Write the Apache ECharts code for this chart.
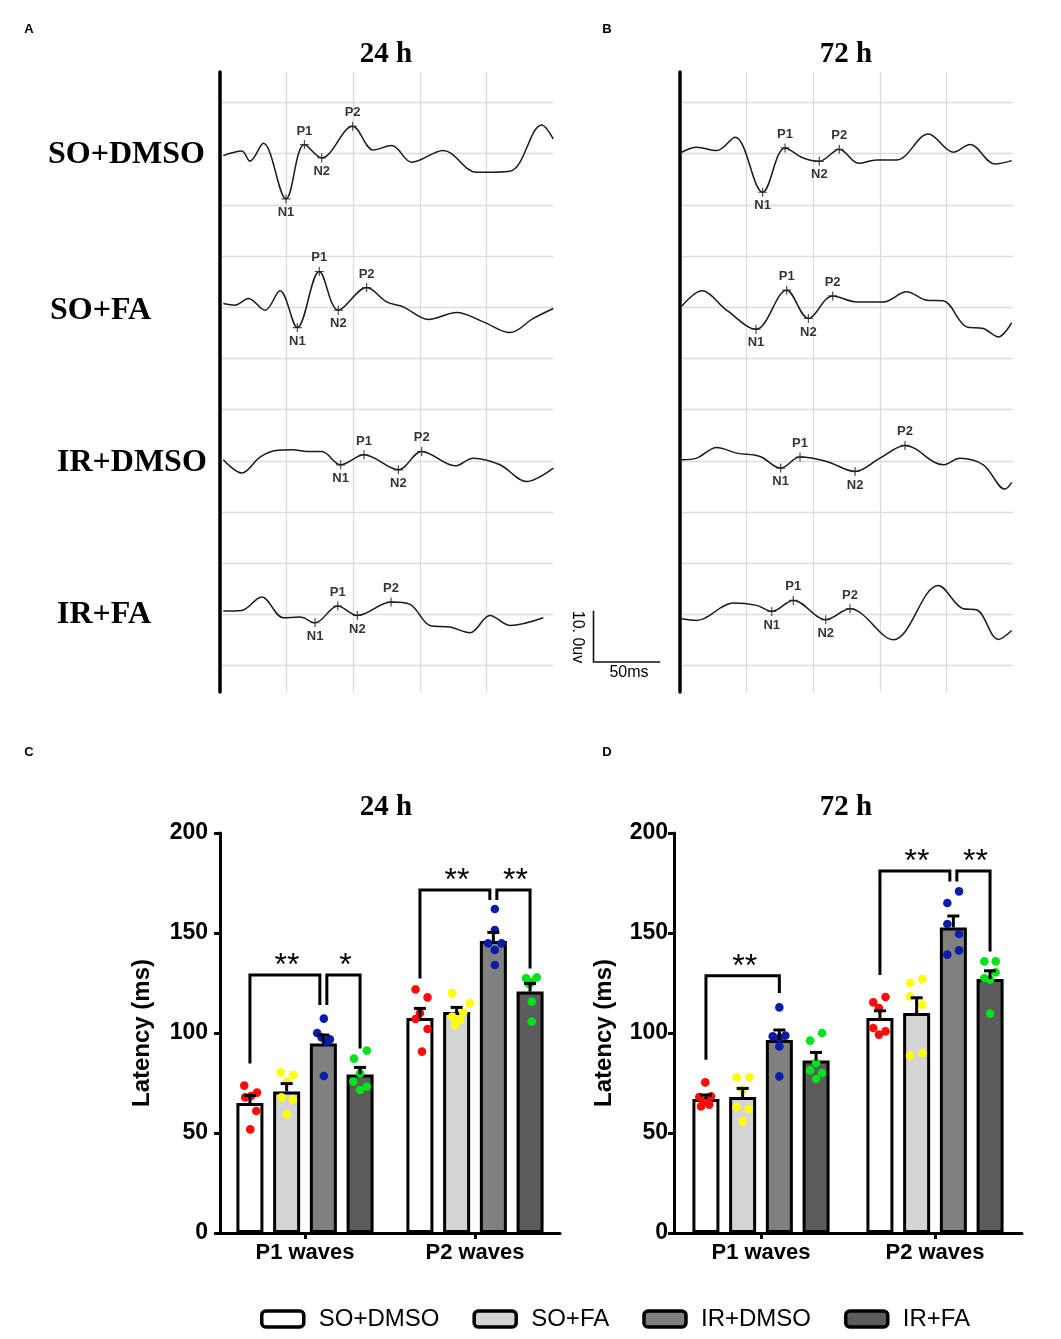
<!DOCTYPE html>
<html><head><meta charset="utf-8">
<script src="https://cdn.jsdelivr.net/npm/echarts@6/dist/echarts.min.js"></script>
<style>html,body{margin:0;padding:0;background:#fff}#c{width:1061px;height:1339px}</style>
</head><body><div id="c"></div>
<script>
// ================= DATA =================
const groups = ['SO+DMSO', 'SO+FA', 'IR+DMSO', 'IR+FA'];
const waveCats = ['P1 waves', 'P2 waves'];
const rowLabels = ['SO+DMSO', 'SO+FA', 'IR+DMSO', 'IR+FA'];

// VEP traces, [time (ms), amplitude (µV) relative to trace baseline]
const tA_SODMSO = [[2.5,-0.4],[16.3,0.5],[22.5,-1.5],[32.5,2.0],[49.5,-8.85],[63.3,1.76],[76.3,-0.85],[99.5,5.34],[115,0.72],[128.8,1.56],[143.8,-1.69],[167.5,0.6],[192.5,-3.65],[217.5,-3.45],[241.3,5.6],[250,2.86]];
const tA_SOFA   = [[2.5,0.72],[11.3,0.4],[21.3,1.7],[33.8,-0.6],[45,3.2],[58,-3.97],[74.5,6.97],[88.8,-0.59],[110,3.84],[125,1.04],[137.5,0.07],[156.3,-2.4],[177.5,-1.04],[197.5,-2.86],[217.5,-4.95],[235,-2.2],[250,-0.26]];
const tA_IRDMSO = [[2.5,0.2],[16.3,-2.4],[30,0.72],[42,2.0],[53.8,2.15],[67.5,1.8],[76.3,1.8],[90.5,-0.78],[108,1.17],[133.8,-1.76],[151.3,1.82],[176.3,-0.98],[190,0.52],[210,-0.78],[230,-4.04],[250,-1.43]];
const tA_IRFA   = [[2.5,0.65],[16.3,0.78],[31.3,3.39],[47.5,-0.65],[60,-0.52],[71.3,-1.63],[88.3,1.63],[103,-0.2],[128.3,2.41],[142.5,1.95],[157.5,-2.15],[172.5,-2.47],[187.5,-3.58],[202.5,-0.2],[217.5,-2.15],[242.5,-0.65]];
const tB_SODMSO = [[1.3,0.26],[12.5,1.24],[27.5,0.59],[41.3,3.19],[62,-7.55],[78.8,1.1],[92.5,-0.85],[104.5,-1.5],[119.5,0.85],[133.8,-1.89],[147.5,-1.24],[162.5,-1.24],[186.3,3.84],[205,0.26],[217.5,1.76],[236.3,-2.02],[248.8,-1.37]];
const tB_SOFA   = [[1.3,0.2],[16.3,3.19],[35,-0.59],[57,-4.3],[80,3.32],[96.3,-2.21],[114.5,2.21],[132.5,1.04],[152.5,1.04],[170,3.0],[185,1.37],[197.5,1.24],[215,-3.84],[227.5,-4.17],[238.8,-5.8],[248.8,-3.0]];
const tB_IRDMSO = [[1.3,0.2],[12.5,0.52],[27.5,2.6],[42.5,1.5],[60,0.85],[75.5,-1.43],[90,0.72],[110,-0.13],[131.3,-2.08],[150,0.52],[168.8,3.0],[197.5,-0.78],[210,0.52],[227.5,-0.78],[243.8,-5.53],[248.8,-4.23]];
const tB_IRFA   = [[1.3,-0.85],[12.5,-1.17],[40,2.21],[57.5,1.76],[68.8,0.59],[85,2.73],[109.3,-1.04],[127.5,1.1],[160,-4.95],[193.8,5.66],[212.5,1.1],[222.5,0.91],[238.8,-4.88],[248.8,-3.13]];

// marked peaks [label, time, amplitude]
const pA_SODMSO = [['N1',49.5,-8.85],['P1',63.3,1.76],['N2',76.3,-0.85],['P2',99.5,5.34]];
const pA_SOFA   = [['N1',58,-3.97],['P1',74.5,6.97],['N2',88.8,-0.59],['P2',110,3.84]];
const pA_IRDMSO = [['N1',90.5,-0.78],['P1',108,1.17],['N2',133.8,-1.76],['P2',151.3,1.82]];
const pA_IRFA   = [['N1',71.3,-1.63],['P1',88.3,1.63],['N2',103,-0.2],['P2',128.3,2.41]];
const pB_SODMSO = [['N1',62,-7.55],['P1',78.8,1.1],['N2',104.5,-1.5],['P2',119.5,0.85]];
const pB_SOFA   = [['N1',57,-4.3],['P1',80,3.32],['N2',96.3,-2.21],['P2',114.5,2.21]];
const pB_IRDMSO = [['N1',75.5,-1.43],['P1',90,0.72],['N2',131.3,-2.08],['P2',168.8,3.0]];
const pB_IRFA   = [['N1',68.8,0.59],['P1',85,2.73],['N2',109.3,-1.04],['P2',127.5,1.1]];

// Latency means (P1, P2) and SEM
const c24_SODMSO = [65.0, 107.5], c24_SOFA = [70.8, 110.5], c24_IRDMSO = [94.7, 146.0], c24_IRFA = [79.3, 120.7];
const s24_SODMSO = [3.7, 4.8],    s24_SOFA = [3.9, 2.3],    s24_IRDMSO = [4.3, 4.3],    s24_IRFA = [3.5, 4.1];
const c72_SODMSO = [67.0, 107.5], c72_SOFA = [68.0, 110.0], c72_IRDMSO = [96.5, 152.8], c72_IRFA = [86.2, 127.0];
const s72_SODMSO = [2.0, 3.6],    s72_SOFA = [4.3, 7.6],    s72_IRDMSO = [5.0, 5.7],    s72_IRFA = [4.1, 4.1];
const yTicks = [0, 50, 100, 150, 200];

// individual animals
const dC_SODMSO_P1 = [73.7, 70.2, 67.8, 61.0, 51.8, 68.5];
const dC_SOFA_P1   = [80.3, 79.0, 75.7, 67.8, 66.8, 59.3];
const dC_IRDMSO_P1 = [107.2, 100.0, 97.8, 96.8, 95.7, 78.5];
const dC_IRFA_P1   = [91.2, 87.2, 79.8, 75.7, 71.5, 73.2];
const dC_SODMSO_P2 = [121.8, 117.8, 107.0, 102.0, 90.7, 110.0];
const dC_SOFA_P2   = [119.8, 114.8, 108.2, 110.2, 106.5, 104.0];
const dC_IRDMSO_P2 = [162.0, 151.5, 144.8, 144.8, 141.5, 134.0];
const dC_IRFA_P2   = [127.3, 127.8, 125.5, 115.7, 105.7, 124.5];
const dD_SODMSO_P1 = [75.3, 68.0, 68.3, 63.3, 64.2, 65.8];
const dD_SOFA_P1   = [77.8, 77.8, 63.0, 62.0, 55.8, 71.6];
const dD_IRDMSO_P1 = [112.8, 98.3, 98.7, 93.3, 78.3, 97.6];
const dD_IRFA_P1   = [96.2, 100.0, 85.0, 81.3, 80.0, 77.0];
const dD_SODMSO_P2 = [115.3, 118.0, 112.5, 102.5, 99.2, 100.8];
const dD_SOFA_P2   = [125.0, 127.0, 118.3, 114.2, 88.7, 90.0];
const dD_IRDMSO_P2 = [170.8, 165.0, 154.5, 149.5, 139.2, 141.3];
const dD_IRFA_P2   = [135.8, 135.8, 127.5, 130.3, 126.7, 109.7];

// significance brackets: [category, fromBar, toBar, top, leftFoot, rightFoot]
const brC = [[0,0,2,129,84.8,114],[0,2,3,129,114,92.3],[1,0,2,171.5,127.3,166.5],[1,2,3,171.5,166.5,132.3]];
const brC_txt = ['**','*','**','**'];
const brD = [[0,0,2,128.6,86.6,120],[1,0,2,181,129,175.8],[1,2,3,181,175.8,140.8]];
const brD_txt = ['**','**','**'];

// ================= LAYOUT / STYLE =================
const SANS = 'Liberation Sans, Arial, sans-serif';
const SERIF = 'Liberation Serif, Times New Roman, serif';
const GRID_C = '#dcdcdc';
const BAR_FILL = ['#ffffff', '#d4d4d4', '#808080', '#5c5c5c'];
const DOT_C = ['#ff0a0a', '#ffff00', '#0a1ca8', '#00e31a'];
const BAR_W = 27, BAR_STEP = 36.7;
// dot horizontal spread inside each bar (px)
const jit = {
  C: [[[-5.7,7,-4.7,6.3,0.3,1],[-4.4,7.6,-4.4,7.6,2,0]],
      [[-6,6.6,0.6,-5,6,0],[-4.4,13.3,-4.4,6.6,3.3,-1.7]],
      [[0.5,-6.2,-1.8,6.5,3.2,0.5],[1.5,1.5,-5.2,8.2,1.5,1.5]],
      [[6.7,-6,0,-6.7,0,6.7],[-4,6.7,1.7,1.7,1.7,-1]]],
  D: [[[-0.7,-6.7,5,-5,3.3,-0.7],[-6.7,5.6,-1,-6.7,-1,5.6]],
      [[-6,6.6,-6,6,0,0],[-6.6,5.7,-6.6,5.7,-6.6,5.7]],
      [[0,-6.6,6,0,0,0],[5.7,-6,-6,5.7,-6,5.7]],
      [[-6,6,0,-6,6,0],[-5.7,5.6,-5.7,5.6,0,0]]]
};

const V_TOP = 72, V_H = 620, W_W = 333.3;
const H_TOP = 102.4, H_H = 563.2;
const BASE_Y = [153.6, 307.2, 460.8, 614.4];
const PX_PER_UV = 5.12;

const grids = [], xAxes = [], yAxes = [], series = [];
const addG = g => (grids.push(g), grids.length - 1);
const addX = a => (xAxes.push(a), xAxes.length - 1);
const addY = a => (yAxes.push(a), yAxes.length - 1);
const hidden = {axisLine:{show:false}, axisTick:{show:false}, axisLabel:{show:false}, splitLine:{show:false}};

function wavePanel(left, traces, peaks) {
  let g = addG({left, top:V_TOP, width:W_W, height:V_H});
  addX(Object.assign({}, hidden, {gridIndex:g, type:'value', min:0, max:250, interval:50,
    splitLine:{show:true, showMinLine:false, showMaxLine:false, lineStyle:{color:GRID_C, width:1.3}}}));
  addY(Object.assign({}, hidden, {gridIndex:g, type:'value', min:0, max:1,
    axisLine:{show:true, onZero:false, lineStyle:{color:'#000', width:3.5}}}));
  g = addG({left, top:H_TOP, width:W_W, height:H_H});
  addX(Object.assign({}, hidden, {gridIndex:g, type:'value', min:0, max:250}));
  addY(Object.assign({}, hidden, {gridIndex:g, type:'value', min:0, max:110, interval:10,
    splitLine:{show:true, lineStyle:{color:GRID_C, width:1.3}}}));
  traces.forEach((tr, k) => {
    const half = 25 * PX_PER_UV;
    const gi = addG({left, top:BASE_Y[k] - half, width:W_W, height:2 * half});
    const xi = addX(Object.assign({}, hidden, {gridIndex:gi, type:'value', min:0, max:250}));
    const yi = addY(Object.assign({}, hidden, {gridIndex:gi, type:'value', min:-25, max:25}));
    series.push({type:'line', xAxisIndex:xi, yAxisIndex:yi, data:tr, smooth:0.35, showSymbol:false, silent:true,
      lineStyle:{color:'#1a1a1a', width:1.5}, z:3});
    series.push({type:'scatter', xAxisIndex:xi, yAxisIndex:yi, silent:true, z:4,
      symbol:'path://M5,0L5,10M0,5L10,5', symbolSize:9,
      itemStyle:{color:'rgba(0,0,0,0)', borderColor:'#222', borderWidth:1.2},
      data: peaks[k].map(p => ({name:p[0], value:[p[1], p[2]],
        label:{show:true, formatter:p[0], position:p[0][0] === 'P' ? 'top' : 'bottom', distance:2,
          color:'#000', fontSize:13, fontWeight:'bold', fontFamily:SANS}}))});
  });
}

function barPanel(key, left, width, means, sems, dots, brackets, brTxt, labelMargin, nameGap) {
  const g = addG({left, top:833, width, height:400});
  const xi = addX({gridIndex:g, type:'category', data:waveCats,
    axisLine:{show:true, lineStyle:{color:'#000', width:3}},
    axisTick:{show:true, alignWithLabel:true, length:6, lineStyle:{color:'#000', width:3}},
    axisLabel:{color:'#000', fontSize:22, fontWeight:'bold', fontFamily:SANS, margin:9},
    splitLine:{show:false}});
  const yi = addY({gridIndex:g, type:'value', min:yTicks[0], max:yTicks[yTicks.length-1], interval:yTicks[1]-yTicks[0],
    name:'Latency (ms)', nameLocation:'middle', nameGap,
    nameTextStyle:{color:'#000', fontSize:24, fontWeight:'bold', fontFamily:SANS},
    axisLine:{show:true, lineStyle:{color:'#000', width:3}},
    axisTick:{show:true, length:6, lineStyle:{color:'#000', width:3}},
    axisLabel:{color:'#000', fontSize:23, fontWeight:'bold', fontFamily:SANS, margin:labelMargin},
    splitLine:{show:false}});
  groups.forEach((name, i) => series.push({type:'bar', name, xAxisIndex:xi, yAxisIndex:yi, data:means[i],
    barWidth:BAR_W, barGap:'36%', silent:true, z:2,
    itemStyle:{color:BAR_FILL[i], borderColor:'#000', borderWidth:3}}));
  // dots
  const dotData = [];
  dots.forEach((perCat, b) => perCat.forEach((vals, c) => vals.forEach((v, k) =>
    dotData.push([c, v, b, jit[key][b][c][k]]))));
  series.push({type:'custom', xAxisIndex:xi, yAxisIndex:yi, silent:true, z:5, data:dotData, encode:{x:0, y:1},
    renderItem(p, api) {
      const pt = api.coord([api.value(0), api.value(1)]);
      const b = api.value(2);
      return {type:'circle', shape:{cx:pt[0] + (b - 1.5) * BAR_STEP + api.value(3), cy:pt[1], r:4.3},
        style:{fill:DOT_C[b]}};
    }});
  // error bars
  const errData = [];
  means.forEach((m, b) => m.forEach((v, c) => errData.push([c, v, b, sems[b][c]])));
  series.push({type:'custom', xAxisIndex:xi, yAxisIndex:yi, silent:true, z:6, data:errData, encode:{x:0, y:1},
    renderItem(p, api) {
      const c = api.value(0), m = api.value(1), b = api.value(2), s = api.value(3);
      const p0 = api.coord([c, m]), p1 = api.coord([c, m + s]);
      const x = p0[0] + (b - 1.5) * BAR_STEP;
      return {type:'group', children:[
        {type:'line', shape:{x1:x, y1:p0[1], x2:x, y2:p1[1]}, style:{stroke:'#000', lineWidth:3}},
        {type:'line', shape:{x1:x - 6, y1:p1[1], x2:x + 6, y2:p1[1]}, style:{stroke:'#000', lineWidth:3}}]};
    }});
  // brackets
  series.push({type:'custom', xAxisIndex:xi, yAxisIndex:yi, silent:true, z:6, data:brackets, encode:{x:0, y:3},
    renderItem(p, api) {
      const c = api.value(0), f = api.value(1), t = api.value(2);
      const top = api.coord([c, api.value(3)]);
      const lf = api.coord([c, api.value(4)]);
      const rfp = api.coord([c, api.value(5)]);
      const sharedL = brackets.some(o => o[0] === c && o[2] === f);
      const sharedR = brackets.some(o => o[0] === c && o[1] === t);
      const xL = top[0] + (f - 1.5) * BAR_STEP + (sharedL ? 3.5 : 0);
      const xR = top[0] + (t - 1.5) * BAR_STEP - (sharedR ? 3.5 : 0);
      return {type:'group', children:[
        {type:'polyline', shape:{points:[[xL, lf[1]], [xL, top[1]], [xR, top[1]], [xR, rfp[1]]]},
          style:{stroke:'#000', lineWidth:3, fill:null}},
        {type:'text', x:(xL + xR) / 2 + 2, y:top[1] - 9,
          style:{text:brTxt[p.dataIndex], fontSize:32, fontFamily:SANS, fill:'#000', align:'center', verticalAlign:'middle'}}]};
    }});
}

wavePanel(220, [tA_SODMSO, tA_SOFA, tA_IRDMSO, tA_IRFA], [pA_SODMSO, pA_SOFA, pA_IRDMSO, pA_IRFA]);
wavePanel(680, [tB_SODMSO, tB_SOFA, tB_IRDMSO, tB_IRFA], [pB_SODMSO, pB_SOFA, pB_IRDMSO, pB_IRFA]);
barPanel('C', 220, 340,
  [c24_SODMSO, c24_SOFA, c24_IRDMSO, c24_IRFA], [s24_SODMSO, s24_SOFA, s24_IRDMSO, s24_IRFA],
  [[dC_SODMSO_P1, dC_SODMSO_P2], [dC_SOFA_P1, dC_SOFA_P2], [dC_IRDMSO_P1, dC_IRDMSO_P2], [dC_IRFA_P1, dC_IRFA_P2]],
  brC, brC_txt, 12, 66);
barPanel('D', 674, 348,
  [c72_SODMSO, c72_SOFA, c72_IRDMSO, c72_IRFA], [s72_SODMSO, s72_SOFA, s72_IRDMSO, s72_IRFA],
  [[dD_SODMSO_P1, dD_SODMSO_P2], [dD_SOFA_P1, dD_SOFA_P2], [dD_IRDMSO_P1, dD_IRDMSO_P2], [dD_IRFA_P1, dD_IRFA_P2]],
  brD, brD_txt, 6, 58);

function txt(s, x, y, size, family, weight, align, rot) {
  return {type:'text', x, y, rotation:rot || 0, silent:true,
    style:{text:s, fontSize:size, fontFamily:family, fontWeight:weight, fill:'#000', align:align || 'center', verticalAlign:'middle'}};
}
const rowX = [48, 50, 57, 57], rowY = [155, 311, 463, 615];
const graphic = [
  txt('A', 29, 29, 13, SANS, 'bold'), txt('B', 607, 29, 13, SANS, 'bold'),
  txt('C', 29, 752, 13, SANS, 'bold'), txt('D', 607, 752, 13, SANS, 'bold'),
  txt('24 h', 386, 55, 29, SERIF, 'bold'), txt('72 h', 846, 55, 29, SERIF, 'bold'),
  txt('24 h', 386, 808, 29, SERIF, 'bold'), txt('72 h', 846, 808, 29, SERIF, 'bold'),
  ...rowLabels.map((s, i) => txt(s, rowX[i], rowY[i], 32, SERIF, 'bold', 'left')),
  {type:'polyline', silent:true, shape:{points:[[593.5, 662 - 10 * PX_PER_UV], [593.5, 662], [593.5 + W_W / 5, 662]]},
    style:{stroke:'#111', lineWidth:1.6, fill:null}},
  txt('50ms', 629, 673, 16, SANS, 'normal'),
  txt('10. 0uv', 577, 637, 16, SANS, 'normal', 'center', -Math.PI / 2)
];

const chart = echarts.init(document.getElementById('c'), null, {renderer:'canvas', width:1061, height:1339});
chart.setOption({
  animation:false,
  backgroundColor:'#ffffff',
  grid:grids, xAxis:xAxes, yAxis:yAxes, series,
  legend:{data:groups, left:255, top:1302, itemWidth:42, itemHeight:16, itemGap:33, icon:'roundRect',
    selectedMode:false,
    itemStyle:{borderColor:'#000', borderWidth:3.5},
    textStyle:{color:'#000', fontSize:24, fontFamily:SANS, padding:[0, 0, 0, 10]}},
  graphic
});
</script></body></html>
